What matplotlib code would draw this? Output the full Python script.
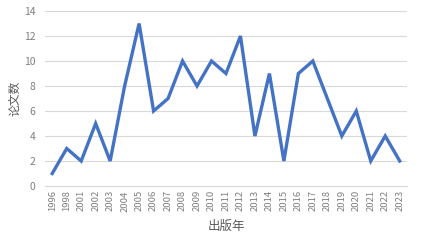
import matplotlib
matplotlib.use("Agg")
import matplotlib.pyplot as plt

plt.rcParams['font.family'] = ['Noto Sans CJK SC', 'DejaVu Sans']

years = ['1996', '1998', '2001', '2002', '2003', '2004', '2005', '2006', '2007',
         '2008', '2009', '2010', '2011', '2012', '2013', '2014', '2015', '2016',
         '2017', '2018', '2019', '2020', '2021', '2022', '2023']
papers = [1, 3, 2, 5, 2, 8, 13, 6, 7, 10, 8, 10, 9, 12, 4, 9, 2, 9, 10, 7, 4, 6, 2, 4, 2]
y_ticks = [0, 2, 4, 6, 8, 10, 12, 14]

fig = plt.figure(figsize=(4.39, 2.48), dpi=100)
ax = fig.add_axes([0.1025, 0.25, 0.8245, 0.7056])

x = range(len(years))
ax.plot(x, papers, color='#4472C4', linewidth=2.4, solid_joinstyle='miter')

ax.set_xlim(-0.5, len(years) - 0.5)
ax.set_ylim(0, 14)
ax.set_yticks(y_ticks)
ax.set_xticks(list(x))
ax.set_xticklabels(years, rotation=90, fontsize=6.8, color='#7f7f7f')
ax.tick_params(axis='y', labelsize=7.5, labelcolor='#7f7f7f', length=0, pad=7)
ax.tick_params(axis='x', length=0, pad=3)

ax.grid(axis='y', color='#d9d9d9', linewidth=0.8)
ax.set_axisbelow(True)
for side in ['top', 'right', 'left']:
    ax.spines[side].set_visible(False)
ax.spines['bottom'].set_color('#d9d9d9')
ax.spines['bottom'].set_linewidth(0.8)

ax.set_ylabel('论文数', fontsize=8.5, color='#595959')
ax.yaxis.set_label_coords(-0.066, 0.5)
ax.set_xlabel('出版年', fontsize=9, color='#595959', labelpad=6)

fig.savefig('out.png', dpi=100, facecolor='white')
plt.close(fig)
